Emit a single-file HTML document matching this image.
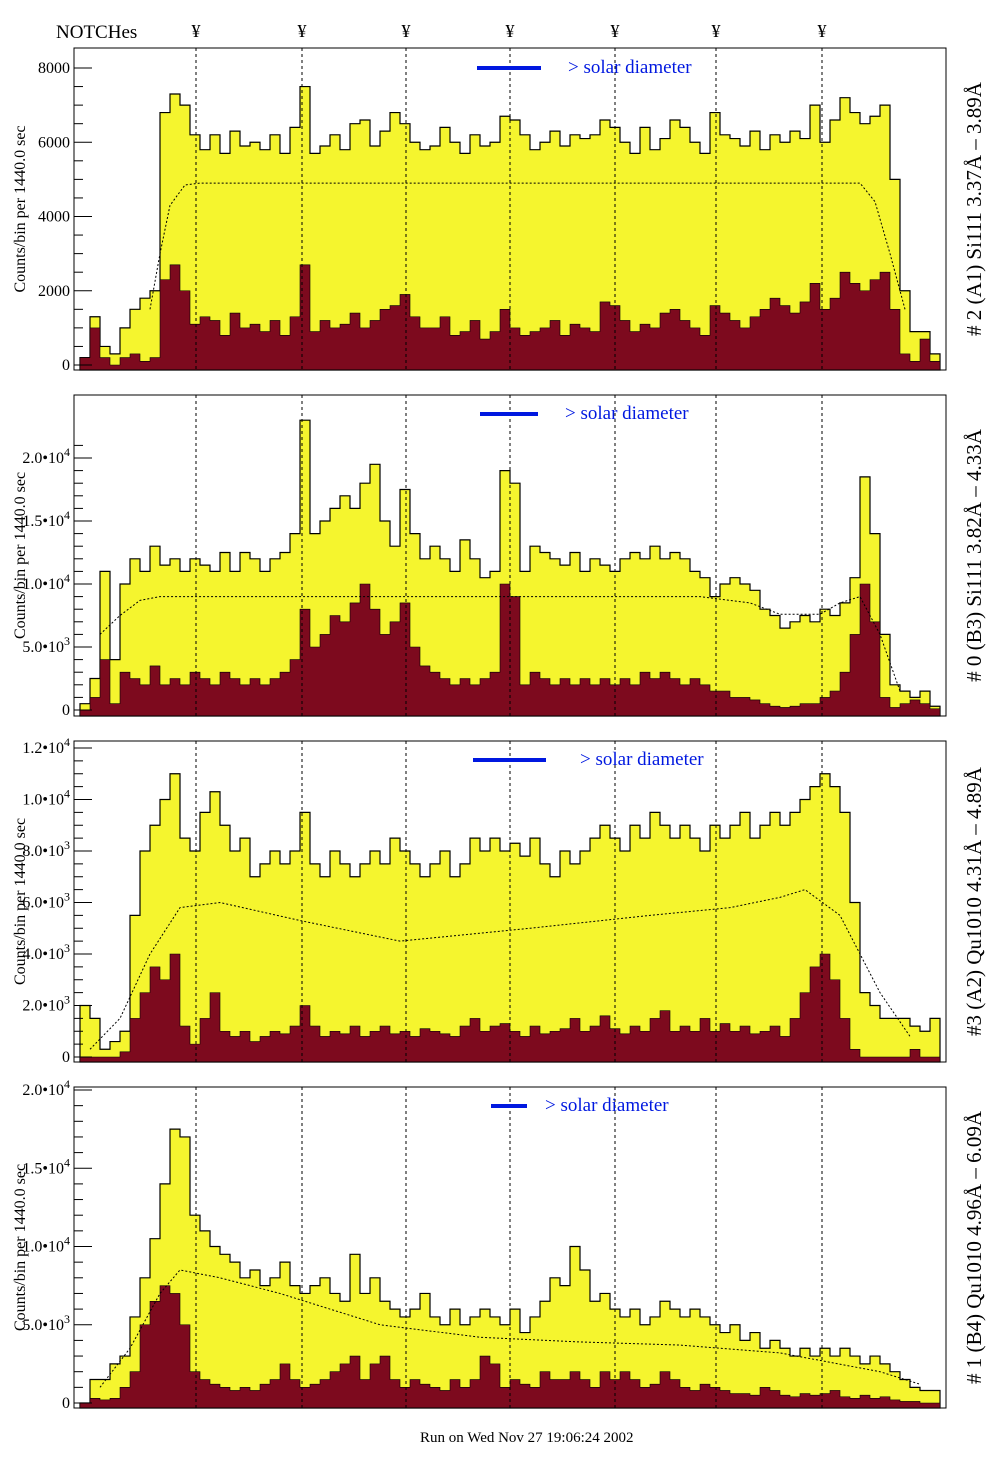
<!DOCTYPE html>
<html><head><meta charset="utf-8"><style>
body{margin:0;background:#fff;width:1004px;height:1476px;overflow:hidden;font-family:"Liberation Serif",serif}
svg text{font-family:"Liberation Serif",serif}
</style></head><body>
<svg id="chart" width="1004" height="1476" viewBox="0 0 1004 1476" xmlns="http://www.w3.org/2000/svg">
<text x="56" y="38" font-size="19">NOTCHes</text>
<text x="420" y="1442" font-size="15">Run on Wed Nov 27 19:06:24 2002</text>
</svg>
<script>
const notchX=[196,302,406,510,615,716,822];
const p1Total=[200,1300,500,300,1000,1500,1800,2000,6800,7300,7000,6200,5800,6200,5700,6300,5900,6000,5800,6200,5700,6400,7500,5700,5900,6200,5800,6500,6600,5900,6300,6800,6500,6000,5800,5900,6400,6000,5700,6200,5900,6000,6700,6600,6200,5800,6000,6300,5900,6200,6100,6200,6600,6400,6000,5700,6400,5800,6100,6600,6400,6000,5700,6800,6200,6100,5900,6300,5800,6200,6000,6300,6100,7000,6000,6600,7200,6800,6500,6700,7000,5000,2000,900,900,300];
const p1Sub=[200,1000,200,0,200,300,100,200,2300,2700,2000,1100,1300,1200,800,1400,1000,1100,900,1200,800,1300,2700,900,1200,1000,1100,1400,1000,1200,1500,1600,1900,1300,1000,1000,1300,800,900,1200,700,900,1500,1000,800,900,1000,1200,800,1100,1000,900,1700,1600,1200,900,1100,1000,1400,1500,1200,1000,800,1600,1400,1200,1000,1300,1500,1800,1600,1400,1700,2200,1500,1800,2500,2200,2000,2300,2500,1500,300,100,700,100];
const p2Total=[500,2500,11000,4000,10000,12000,11000,13000,11500,12000,11000,12000,11500,11000,12500,11000,12500,12000,11000,12000,12500,14000,23000,14000,15000,16000,17000,16000,18000,19500,15000,13000,17500,14000,12000,13000,12000,11000,13500,12000,10500,11000,19000,18000,11000,13000,12500,12000,11500,12500,11000,12000,11500,11000,12000,12500,12000,13000,12000,12500,12000,11000,10500,9000,10000,10500,10000,9500,8000,7500,6500,7000,7500,7000,8000,7500,8500,10500,18500,14000,6000,2000,1500,1000,1500,300];
const p2Sub=[0,1000,4000,500,3000,2500,2000,3500,2000,2500,2000,3000,2500,2000,3000,2500,2000,2500,2000,2500,3000,4000,8000,5000,6000,7500,7000,8500,10000,8000,6000,7000,8500,5000,3500,3000,2500,2000,2500,2000,2500,3000,10000,9000,2000,3000,2500,2000,2500,2000,2500,2000,2500,2000,2500,2000,3000,2500,3000,2500,2000,2500,2000,1500,1500,1000,1000,800,500,300,200,300,500,500,1000,1500,3000,6000,10000,7000,1000,200,500,800,500,100];
const p3Total=[2000,1500,300,600,1000,5500,8000,9000,10000,11000,8500,8000,9500,10300,9000,8000,8500,7000,7500,8000,7500,8000,9500,7500,7000,8000,7500,7000,7500,8000,7500,8500,8000,7500,7000,7500,8000,7000,7500,8500,8000,8500,8000,8300,7800,8500,7500,7000,8000,7500,8000,8500,9000,8500,8000,9000,8500,9500,9000,8500,9000,8500,8000,9000,8500,9000,9500,8500,9000,9500,9000,9500,10000,10500,11000,10500,9500,6000,2500,2000,1500,1500,1500,1200,1000,1500];
const p3Sub=[0,0,0,0,200,1500,2500,3500,3000,4000,1200,500,1500,2500,1000,800,1000,600,800,1000,900,1200,2000,1200,800,1000,900,1200,800,1000,1200,900,1000,800,1100,1000,900,800,1200,1500,1000,1200,1300,1000,800,1200,900,1000,1100,1500,1000,1200,1600,1100,900,1200,1000,1500,1800,1000,1200,1000,1500,1000,1300,1000,1200,900,1000,1200,800,1500,2500,3500,4000,3000,1500,300,0,0,0,0,0,300,0,0];
const p4Total=[0,1500,1500,2500,3000,5500,8000,10500,14000,17500,17000,12000,11000,10000,9500,9000,8000,8500,7500,8000,9000,7500,7000,7500,8000,7000,6500,9500,7000,8000,6500,6000,5500,6000,7000,5500,5000,6000,5000,5500,6000,5500,5000,6000,4500,5500,6500,8000,7500,10000,8500,6500,7000,6000,5500,6000,5000,5500,6500,6000,5500,6000,5500,5000,4500,5000,4000,4500,3500,4000,3500,3000,3500,3000,3500,3000,3500,3000,2500,3000,2500,2000,1500,1000,800,800];
const p4Sub=[0,300,200,300,1000,2000,5000,6500,7500,7000,5000,2000,1500,1200,1000,800,1000,800,1200,1500,2500,1500,1000,1200,1500,2000,2500,3000,1500,2500,3000,1500,1000,1500,1200,1000,800,1500,1000,1500,3000,2500,1000,1500,1200,1000,2000,1500,1500,2000,1500,1000,2000,1500,2000,1500,1000,1200,2000,1500,1000,800,1200,1000,800,600,600,500,1000,800,500,400,600,500,600,800,400,300,500,300,400,200,100,100,0,0];
const p1CurveBin=[7,8,9,10.5,12,78,79.5,81,82.5];
const p1CurveVal=[1500,3000,4300,4850,4900,4900,4400,3000,1500];
const p2CurveBin=[2,4,6,8,62,67,70,74,76,78,80,82];
const p2CurveVal=[6000,7500,8700,9000,9000,8500,7600,7600,8500,9000,6000,1500];
const p3CurveBin=[1,4,7,10,14,22,32,45,57,65,70,72.5,76,80,83];
const p3CurveVal=[300,1500,4000,5800,6000,5300,4500,5000,5500,5800,6200,6500,5500,2500,800];
const p4CurveBin=[2,5,8,10,14,20,30,40,50,60,70,80,84];
const p4CurveVal=[1000,3500,7000,8500,8000,7000,5000,4200,3900,3700,3200,2000,1200];
const p1Ticks=[0,2000,4000,6000,8000];
const p1TickLabels=["0","2000","4000","6000","8000"];
const p2Ticks=[0,5000,10000,15000,20000];
const p2TickLabels=["0","5.0•10|3","1.0•10|4","1.5•10|4","2.0•10|4"];
const p3Ticks=[0,2000,4000,6000,8000,10000,12000];
const p3TickLabels=["0","2.0•10|3","4.0•10|3","6.0•10|3","8.0•10|3","1.0•10|4","1.2•10|4"];
const p4Ticks=[0,5000,10000,15000,20000];
const p4TickLabels=["0","5.0•10|3","1.0•10|4","1.5•10|4","2.0•10|4"];
const titles=["# 2 (A1) Si111  3.37Å – 3.89Å","# 0 (B3) Si111  3.82Å – 4.33Å","#3 (A2) Qu1010  4.31Å – 4.89Å","# 1 (B4) Qu1010 4.96Å – 6.09Å"];

const NS="http://www.w3.org/2000/svg";
const svg=document.getElementById('chart');
function mk(tag,attrs,parent){const e=document.createElementNS(NS,tag);for(const k in attrs)e.setAttribute(k,attrs[k]);(parent||svg).appendChild(e);return e;}
const X0=74,X1=946,BIN0=80,BW=10;
function xScale(i){return BIN0+i*BW;}
const panels=[
 {top:48,bot:370,y0:365,yRef:68,vRef:8000,tot:p1Total,sub:p1Sub,cb:p1CurveBin,cv:p1CurveVal,ticks:p1Ticks,labels:p1TickLabels,minor:500,bar:[477,541],sx:568,sy:73},
 {top:395,bot:716,y0:710,yRef:458,vRef:20000,tot:p2Total,sub:p2Sub,cb:p2CurveBin,cv:p2CurveVal,ticks:p2Ticks,labels:p2TickLabels,minor:1000,bar:[480,538],sx:565,sy:419},
 {top:741,bot:1062,y0:1057,yRef:748,vRef:12000,tot:p3Total,sub:p3Sub,cb:p3CurveBin,cv:p3CurveVal,ticks:p3Ticks,labels:p3TickLabels,minor:500,bar:[473,546],sx:580,sy:765},
 {top:1087,bot:1408,y0:1403,yRef:1090,vRef:20000,tot:p4Total,sub:p4Sub,cb:p4CurveBin,cv:p4CurveVal,ticks:p4Ticks,labels:p4TickLabels,minor:1000,bar:[491,527],sx:545,sy:1111}
];
notchX.forEach((x,k)=>{
 const t=mk('text',{x:x,y:37,'font-size':18,'text-anchor':'middle'});
 
 
 t.textContent='¥';
});
panels.forEach((p,pi)=>{
 const g=mk('g',{});
 
 
 const ys=v=>Math.max(p.top,p.y0-v*(p.y0-p.yRef)/p.vRef);
 function histPath(arr){
  let d='M'+xScale(0)+','+p.bot;
  arr.forEach((v,i)=>{d+=' L'+xScale(i)+','+ys(v)+' L'+xScale(i+1)+','+ys(v);});
  d+=' L'+xScale(arr.length)+','+p.bot+' Z';return d;}
 const h1=mk('path',{d:histPath(p.tot),fill:'#f5f52e',stroke:'#000','stroke-width':1.2},g);
 
 
 const h2=mk('path',{d:histPath(p.sub),fill:'#7d0a1e',stroke:'#000','stroke-width':0.6},g);
 
 
 let cd='';p.cb.forEach((b,i)=>{cd+=(i?' L':'M')+xScale(b)+','+ys(p.cv[i]);});
 const c=mk('path',{d:cd,fill:'none',stroke:'#000','stroke-width':1,'stroke-dasharray':'2,2'},g);
 
 
 notchX.forEach(x=>{
  const l=mk('line',{x1:x,x2:x,y1:p.top,y2:p.bot,stroke:'#000','stroke-width':1,'stroke-dasharray':'3,3'},g);
  
  
 });
 const fr=mk('rect',{x:X0,y:p.top,width:X1-X0,height:p.bot-p.top,fill:'none',stroke:'#000','stroke-width':1},g);
 
 
 for(let v=0;v<=p.vRef*1.05;v+=p.minor){const y=p.y0-v*(p.y0-p.yRef)/p.vRef;if(y<p.top)break;
  const major=p.ticks.indexOf(v)>=0;
  mk('line',{x1:X0,x2:X0+(major?18:9),y1:y,y2:y,stroke:'#000','stroke-width':1},g);}
 p.ticks.forEach((v,i)=>{
  const y=ys(v);const parts=p.labels[i].split('|');
  const t=mk('text',{x:70,y:y+5,'font-size':16,'text-anchor':'end'},g);
  
  
  if(parts.length===1)t.textContent=parts[0];
  else{const a=mk('tspan',{},t);a.textContent=parts[0];const b=mk('tspan',{dy:-7,'font-size':12},t);b.textContent=parts[1];}
 });
 const yt=mk('text',{x:0,y:0,'font-size':16,'text-anchor':'middle',transform:`translate(25,${(p.top+p.bot)/2}) rotate(-90)`},g);
 
 
 yt.textContent='Counts/bin per  1440.0 sec';
 const rt=mk('text',{x:0,y:0,'font-size':21,'text-anchor':'middle',transform:`translate(981,${(p.top+p.bot)/2}) rotate(-90)`},g);
 
 
 rt.textContent=titles[pi];
 const bar=mk('rect',{x:p.bar[0],y:p.sy-7,width:p.bar[1]-p.bar[0],height:4,fill:'#0018e0'},g);
 
 
 const st=mk('text',{x:p.sx,y:p.sy,'font-size':19,fill:'#0018e0'},g);
 
 
 st.textContent='> solar diameter';
});
</script>
</body></html>
